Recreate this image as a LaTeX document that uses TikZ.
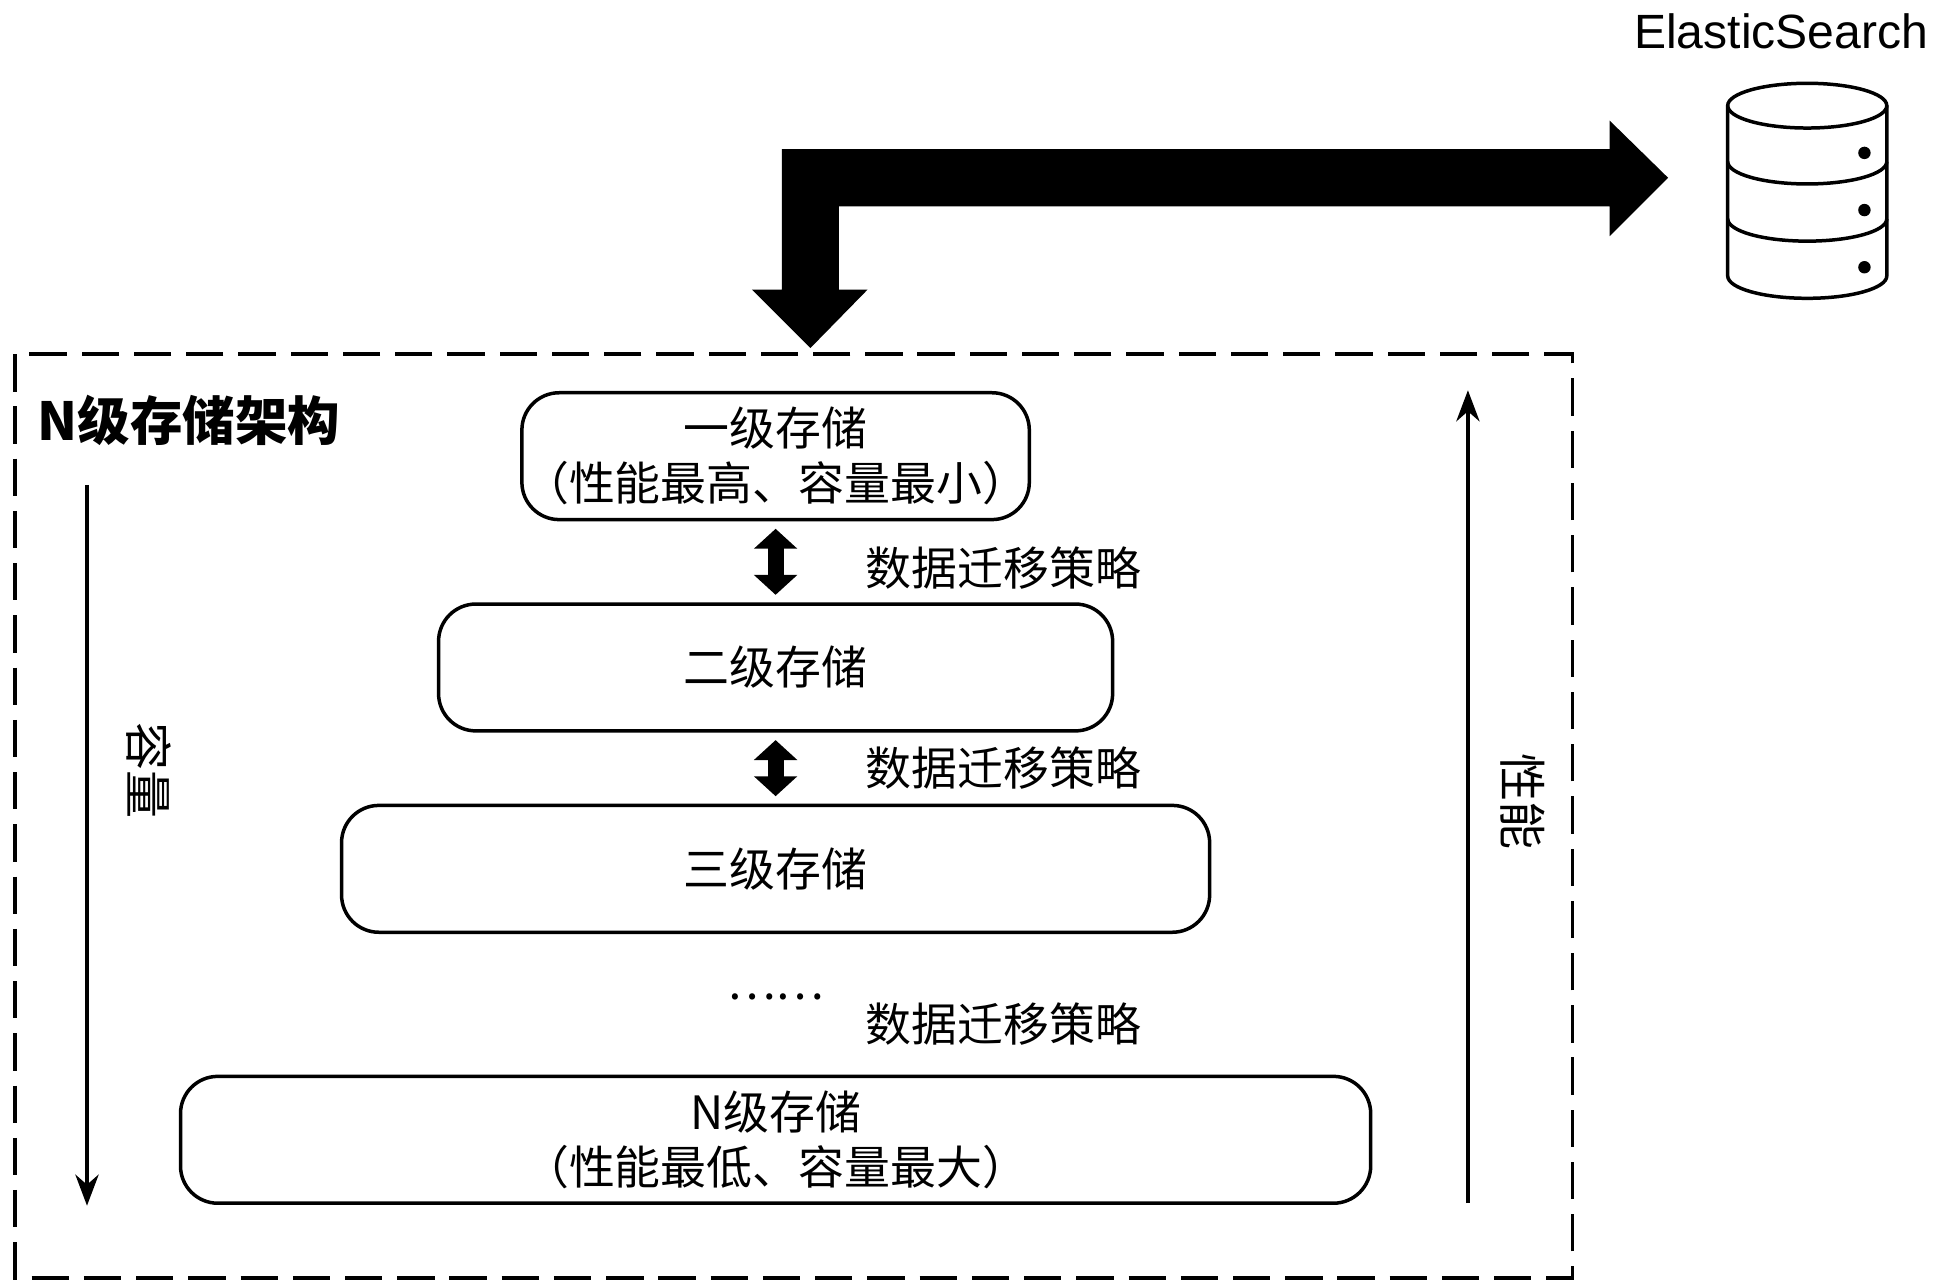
\documentclass[tikz,border=0pt]{standalone}
\usepackage{fontspec}
\setmainfont{Liberation Serif}
\newfontfamily\cjk{Noto Sans CJK SC}
\newfontfamily\sans{Liberation Sans}
\usetikzlibrary{arrows.meta}
\tikzset{
  level/.style = {draw, thick, rounded corners = 3mm, align = center, font = \cjk\fontsize{10.5}{12.5}\selectfont, inner sep = 0pt},
  policy/.style = {anchor = west, font = \cjk\fontsize{10.5}{12.5}\selectfont},
  swap/.style = {line width = 1.3mm, {Triangle[length=1.6mm,width=3.4mm]}-{Triangle[length=1.6mm,width=3.4mm]}},
  axis/.style = {thick, -{Stealth[length=2.5mm]}}
}
\begin{document}
\begin{tikzpicture}[x = 0.01cm, y = -0.01cm]
	\useasboundingbox (0, 0) rectangle (1560, 1036);
	% outer frame
	\draw[thick, dash pattern = on 3mm off 1.2mm] (12, 285) rectangle (1265, 1028);
	\node[anchor = west, font = \cjk\bfseries\fontsize{12}{14}\selectfont] (title) at (18, 338) {N级存储架构};
	% storage levels
	\node[level, minimum width = 4.08cm, minimum height = 1.02cm] (l1) at (624, 367) {一级存储\\（性能最高、容量最小）};
	\node[level, minimum width = 5.42cm, minimum height = 1.02cm] (l2) at (624, 537) {二级存储};
	\node[level, minimum width = 6.98cm, minimum height = 1.02cm] (l3) at (624, 699) {三级存储};
	\node[font = \cjk\fontsize{10.5}{12.5}\selectfont] (dots) at (624, 802) {……};
	\node[level, minimum width = 9.57cm, minimum height = 1.02cm] (ln) at (624, 917) {N级存储\\（性能最低、容量最大）};
	\draw[swap] ([yshift = -0.6mm]l1.south) -- ([yshift = 0.6mm]l2.north);
	\draw[swap] ([yshift = -0.6mm]l2.south) -- ([yshift = 0.6mm]l3.north);
	\node[policy] (p1) at (684, 457) {数据迁移策略};
	\node[policy] (p2) at (684, 618) {数据迁移策略};
	\node[policy] (p3) at (684, 824) {数据迁移策略};
	% side axes
	\coordinate (cTop) at (70, 390);
	\coordinate (cBot) at (70, 970);
	\draw[axis] (cTop) -- (cBot);
	\node[rotate = -90, font = \cjk\fontsize{11}{13}\selectfont] (cap) at (120, 620) {容量};
	\coordinate (pBot) at (1181, 968);
	\coordinate (pTop) at (1181, 314);
	\draw[axis] (pBot) -- (pTop);
	\node[rotate = -90, font = \cjk\fontsize{11}{13}\selectfont] (perf) at (1225, 645) {性能};
	% big connector
	\fill (652, 280) -- (605, 233) -- (629, 233) -- (629, 120) -- (1295, 120) -- (1295, 97) -- (1342, 143)
		-- (1295, 190) -- (1295, 166) -- (675, 166) -- (675, 233) -- (698, 233) -- cycle;
	% database
	\draw[thick, fill = white] (1390, 85) -- (1390, 222) arc[start angle = 180, end angle = 0, x radius = 64, y radius = 18]
		-- (1518, 85);
	\draw[thick] (1454, 85) ellipse[x radius = 64, y radius = 18];
	\draw[thick] (1390, 130) arc[start angle = 180, end angle = 0, x radius = 64, y radius = 18];
	\draw[thick] (1390, 176) arc[start angle = 180, end angle = 0, x radius = 64, y radius = 18];
	\fill (1500, 123) circle (5);
	\fill (1500, 169) circle (5);
	\fill (1500, 215) circle (5);
	\node[anchor = east, inner sep = 0pt, font = \sans\fontsize{11}{13}\selectfont] (es) at (1552, 25) {ElasticSearch};
\end{tikzpicture}
\end{document}
